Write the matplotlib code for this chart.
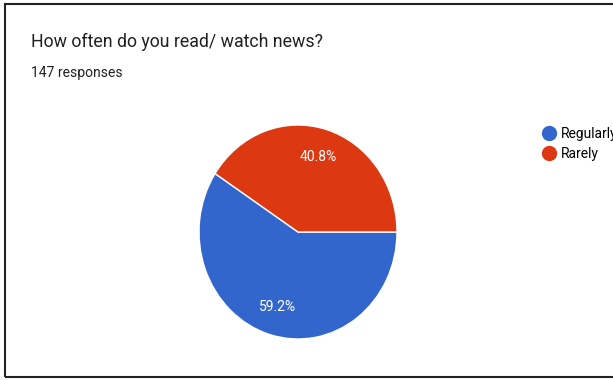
import matplotlib.pyplot as plt
from matplotlib.lines import Line2D
from matplotlib.patches import Rectangle

labels = ['Regularly', 'Rarely']
shares = [59.2, 40.8]
colors = ['#3366cc', '#dc3912']
title = 'How often do you read/ watch news?'
subtitle = '147 responses'

plt.rcParams['font.family'] = ['Roboto', 'DejaVu Sans']
W, H = 613, 380
fig = plt.figure(figsize=(W / 100, H / 100), dpi=100)

# pie centre and radii in pixels (screenshot is slightly stretched vertically)
cx, cy, rx, ry = 298, 232, 99, 107
pad = 1.1
ax = fig.add_axes([(cx - rx * pad) / W, (H - cy - ry * pad) / H,
                   2 * rx * pad / W, 2 * ry * pad / H])
wedges, texts, autotexts = ax.pie(
    shares, colors=colors, startangle=0, counterclock=False,
    autopct='%1.1f%%', pctdistance=0.73,
    wedgeprops=dict(edgecolor='white', linewidth=1),
    textprops=dict(color='white', fontsize=10))
ax.set_aspect('auto')
ax.set_xlim(-pad, pad)
ax.set_ylim(-pad, pad)

fig.text(31 / W, 1 - 42 / H, title, fontsize=12.8, color='#212121', va='center')
fig.text(31 / W, 1 - 73 / H, subtitle, fontsize=10, color='#212121', va='center')

# legend runs off the right edge, as in the original screenshot
handles = [Line2D([], [], marker='o', linestyle='', markersize=10,
                  markerfacecolor=c, markeredgecolor=c) for c in colors]
fig.legend(handles, labels, loc='upper left', bbox_to_anchor=(539 / W, 1 - 127 / H),
           frameon=False, fontsize=10, handletextpad=0.1, labelspacing=0.45,
           borderaxespad=0, borderpad=0, handlelength=1.5)

fig.add_artist(Rectangle((5 / W, 3 / H), 1.0, (H - 7) / H, transform=fig.transFigure,
                         fill=False, edgecolor='#222222', linewidth=1.5))

plt.savefig('out.png', dpi=100)
